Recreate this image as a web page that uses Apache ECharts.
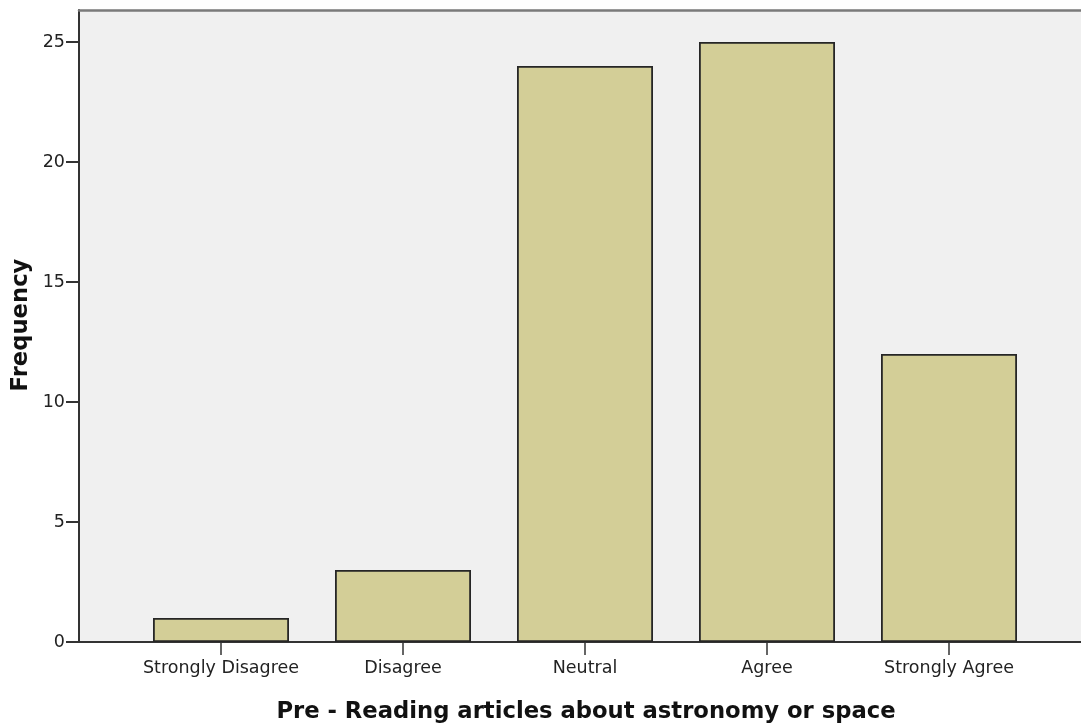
<!DOCTYPE html>
<html>
<head>
<meta charset="utf-8">
<script src="https://cdn.jsdelivr.net/npm/echarts@6/dist/echarts.min.js"></script>
<style>html,body{margin:0;padding:0;background:#fff;}#c{width:1081px;height:727px;}</style>
</head>
<body>
<div id="c"></div>
<script>
const categories = ['Strongly Disagree', 'Disagree', 'Neutral', 'Agree', 'Strongly Agree'];
const frequencies = [1, 3, 24, 25, 12];
const yTicks = [0, 5, 10, 15, 20, 25];
const xTitle = 'Pre - Reading articles about astronomy or space';
const yTitle = 'Frequency';

const chart = echarts.init(document.getElementById('c'), null, {renderer: 'canvas'});
const labelFont = {fontFamily: 'DejaVu Sans', fontSize: 17.5, color: '#222'};
chart.setOption({
  animation: false,
  grid: [
    {left: 79, right: -4, top: 10, bottom: 85, show: true, backgroundColor: '#f0f0f0', borderWidth: 0},
    {left: 130, right: 41, top: 42, bottom: 85}
  ],
  xAxis: [
    {gridIndex: 0, type: 'value', min: 0, max: 1, position: 'bottom',
     axisLine: {show: true, lineStyle: {color: '#333', width: 2}},
     axisTick: {show: false}, axisLabel: {show: false}, splitLine: {show: false}},
    {gridIndex: 0, type: 'value', min: 0, max: 1, position: 'top',
     axisLine: {show: true, lineStyle: {color: '#7a7a7a', width: 2.5}},
     axisTick: {show: false}, axisLabel: {show: false}, splitLine: {show: false}},
    {gridIndex: 1, type: 'category', data: categories,
     axisLine: {show: false},
     axisTick: {show: true, alignWithLabel: true, interval: 0, length: 13, lineStyle: {color: '#333', width: 1.5}},
     axisLabel: Object.assign({margin: 17, interval: 0, hideOverlap: false}, labelFont),
     splitLine: {show: false}}
  ],
  yAxis: [
    {gridIndex: 0, type: 'value', min: 0, max: 1,
     axisLine: {show: true, lineStyle: {color: '#333', width: 2}},
     axisTick: {show: false}, axisLabel: {show: false}, splitLine: {show: false}},
    {gridIndex: 1, type: 'value', min: yTicks[0], max: yTicks[yTicks.length - 1], interval: 5, offset: 51,
     axisLine: {show: false},
     axisTick: {show: true, length: 13, lineStyle: {color: '#333', width: 2}},
     axisLabel: Object.assign({margin: 14}, labelFont),
     splitLine: {show: false}}
  ],
  series: [{
    type: 'bar',
    xAxisIndex: 2,
    yAxisIndex: 1,
    data: frequencies,
    barWidth: 136,
    itemStyle: {color: '#d3ce97', borderColor: '#262626', borderWidth: 1.8}
  }],
  graphic: [
    {type: 'text', x: 586, y: 712,
     style: {text: xTitle, fontFamily: 'DejaVu Sans', fontWeight: 'bold', fontSize: 22.7, fill: '#111', textAlign: 'center', textVerticalAlign: 'middle'}},
    {type: 'text', x: 21, y: 325, rotation: Math.PI / 2,
     style: {text: yTitle, fontFamily: 'DejaVu Sans', fontWeight: 'bold', fontSize: 22.7, fill: '#111', textAlign: 'center', textVerticalAlign: 'middle'}}
  ]
});
</script>
</body>
</html>
